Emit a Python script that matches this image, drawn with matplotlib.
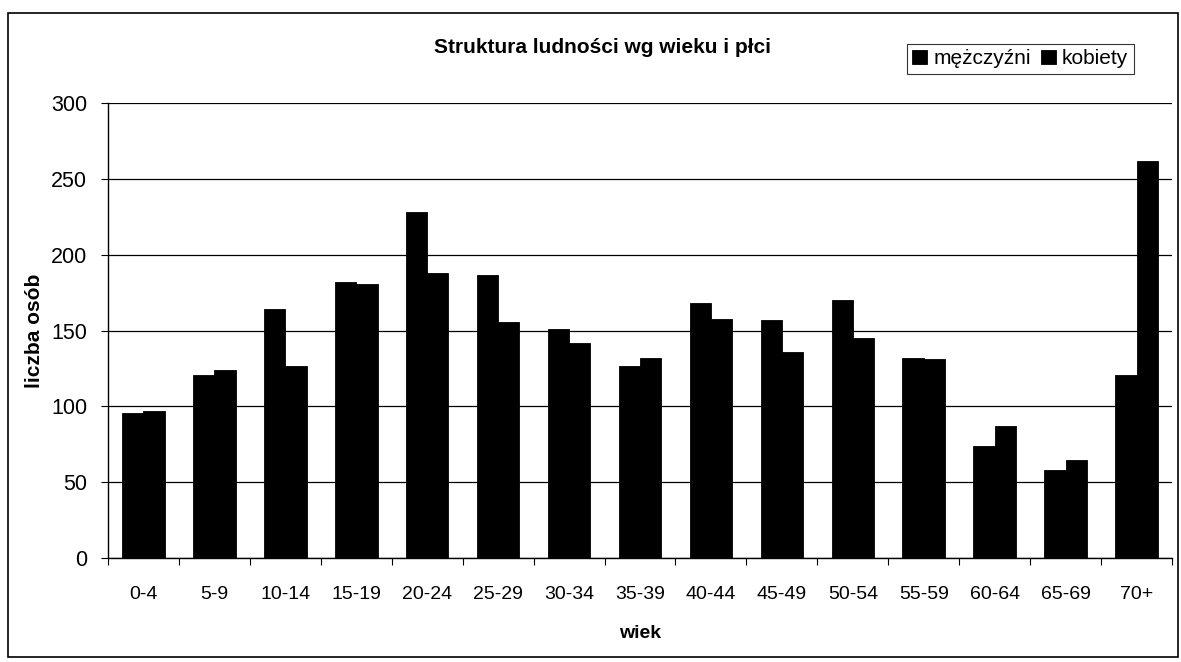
import matplotlib.pyplot as plt
import numpy as np
from matplotlib.patches import Rectangle

plt.rcParams['font.family'] = ['Liberation Sans', 'DejaVu Sans']

# Data
age_groups = ["0-4", "5-9", "10-14", "15-19", "20-24", "25-29", "30-34", "35-39",
              "40-44", "45-49", "50-54", "55-59", "60-64", "65-69", "70+"]
men = [96, 121, 164, 182, 228, 187, 151, 127, 168, 157, 170, 132, 74, 58, 121]
women = [97, 124, 127, 181, 188, 156, 142, 132, 158, 136, 145, 131, 87, 65, 262]
y_ticks = [0, 50, 100, 150, 200, 250, 300]

fig = plt.figure(figsize=(11.81, 6.62), dpi=100, facecolor='white')
ax = fig.add_axes([0.0914, 0.157, 0.901, 0.687])

x = np.arange(len(age_groups))
w = 0.30
ax.bar(x - w / 2, men, w, color='black', edgecolor='black', linewidth=0.6,
       label='mężczyźni', zorder=3)
ax.bar(x + w / 2, women, w, color='black', edgecolor='black', linewidth=0.6,
       label='kobiety', zorder=3)

ax.set_xlim(-0.5, len(age_groups) - 0.5)
ax.set_ylim(0, 300)
ax.set_yticks(y_ticks)
ax.tick_params(axis='y', labelsize=15.5, length=5, width=0.8, pad=10)
ax.yaxis.grid(True, color='black', linewidth=0.9, zorder=0)

# category labels centred, tick marks between categories
ax.set_xticks(x)
ax.set_xticklabels(age_groups, fontsize=14)
ax.tick_params(axis='x', length=0, pad=20)
ax.set_xticks(np.arange(-0.5, len(age_groups)), minor=True)
ax.tick_params(axis='x', which='minor', length=5, width=0.8, direction='out')

for s in ['top', 'right']:
    ax.spines[s].set_visible(False)
ax.spines['left'].set_linewidth(1.0)
ax.spines['bottom'].set_linewidth(1.0)

ax.set_ylabel('liczba osób', fontsize=15, fontweight='bold', labelpad=5)
ax.set_xlabel('wiek', fontsize=14, fontweight='bold', labelpad=16)

fig.text(0.51, 0.929, 'Struktura ludności wg wieku i płci', ha='center', va='center',
         fontsize=15, fontweight='bold')

leg = fig.legend(loc='center', bbox_to_anchor=(0.864, 0.911), ncol=2, fontsize=15,
                 frameon=True, fancybox=False, edgecolor='black', handlelength=0.7,
                 handleheight=0.7, handletextpad=0.3, columnspacing=0.5,
                 borderpad=0.25, borderaxespad=0)
leg.get_frame().set_linewidth(0.8)

# outer frame of the chart
fig.patches.append(Rectangle((0.0068, 0.008), 0.9905, 0.972, transform=fig.transFigure,
                             fill=False, edgecolor='black', linewidth=1.2))

fig.savefig('out.png', dpi=100, facecolor='white')
